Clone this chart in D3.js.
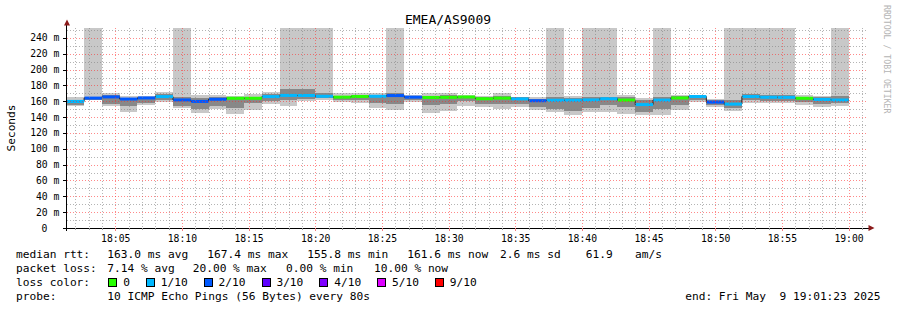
<!DOCTYPE html>
<html>
<head>
<meta charset="utf-8">
<script src="https://cdn.jsdelivr.net/npm/d3@7"></script>
<style>
  body { margin: 0; background: #fff; }
  svg { display: block; }
  text { font-family: "DejaVu Sans Mono", monospace; fill: #000; }
</style>
</head>
<body>
<svg id="chart" width="897" height="310"></svg>
<script>
// smokeping detail: 44 steps of 80s, 10 pings per step
// median rtt per step (ms)
var median = [159.8, 164.0, 165.5, 162.8, 164.2, 165.9, 161.7, 159.8, 162.5, 163.8,
              163.8, 165.9, 167.4, 167.3, 166.3, 165.2, 166.0, 166.3, 167.2, 165.2,
              164.8, 165.0, 165.4, 163.2, 164.0, 163.0, 160.7, 161.3, 161.3, 161.7,
              163.2, 161.5, 155.8, 161.5, 164.2, 166.0, 158.9, 156.4, 166.0, 165.1,
              165.0, 163.8, 162.3, 161.6];
// lost pings out of 10
var lossCount = [1, 2, 2, 2, 2, 1, 2, 2, 2, 0,
                 0, 1, 1, 1, 1, 0, 0, 1, 2, 2,
                 0, 0, 0, 0, 0, 1, 2, 1, 1, 1,
                 1, 0, 1, 1, 0, 1, 2, 1, 1, 1,
                 1, 0, 1, 1];
// smoke: outer band (fastest / slowest ping), 300 = off the top of the graph
var outerLo = [153.5, 161.0, 154.0, 147.0, 155.6, 159.5, 151.0, 145.6, 150.0, 144.0,
               149.0, 156.6, 154.0, 160.4, 161.7, 159.5, 157.5, 151.0, 149.0, 159.0,
               145.6, 148.0, 154.0, 152.5, 150.7, 152.5, 149.0, 147.0, 142.7, 147.0,
               147.0, 144.0, 142.7, 142.7, 149.0, 159.5, 153.0, 148.0, 158.0, 158.0,
               158.0, 155.4, 153.2, 154.0];
var outerHi = [166.0, 300, 171.0, 166.7, 166.7, 172.0, 300, 168.0, 167.6, 166.7,
               169.0, 172.0, 300, 300, 300, 170.0, 171.0, 170.0, 300, 168.0,
               170.0, 171.0, 168.4, 166.7, 170.0, 166.0, 165.0, 300, 166.7, 300,
               300, 168.0, 164.6, 300, 168.4, 168.4, 163.0, 300, 300, 300,
               300, 168.4, 166.7, 300];
// smoke: inner band
var midLo = [155, 162, 157, 154, 158, 162, 154, 150, 154, 152,
             158, 160, 161, 163, 164, 162, 161, 158, 157, 162,
             155, 156, 160, 157, 157, 157, 153, 150, 148, 152,
             155, 153, 147, 150, 155, 162, 155, 152, 161, 160,
             160, 159, 157, 158];
var midHi = [161, 166, 168, 164, 165, 169, 166, 164, 165, 165,
             166, 169, 176, 176, 170, 167, 168, 168, 170, 167,
             167, 168, 167, 165, 167, 165, 163, 165, 164, 166,
             166, 165, 162, 165, 167, 167, 162, 161, 169, 168,
             168, 166, 165, 167];

var yTicks = [0, 20, 40, 60, 80, 100, 120, 140, 160, 180, 200, 220, 240];
var lossLevels = [0, 1, 2, 3, 4, 5, 9];
var lossLabels = ["0", "1/10", "2/10", "3/10", "4/10", "5/10", "9/10"];
var lossColors = ["#26ff00", "#00b8ff", "#0059ff", "#5e00ff", "#7e00ff", "#dd00ff", "#ff0000"];

var rttLegend = [["163.0 ms avg", 107.3], ["167.4 ms max", 207.3], ["155.8 ms min", 307.3],
                 ["161.6 ms now", 407.3], ["2.6 ms sd", 500], ["61.9", 585.7], ["am/s", 635]];
var lossLegend = [["7.14 % avg", 107.3], ["20.00 % max", 192.7], ["0.00 % min", 286], ["10.00 % now", 374]];

var stepMs = 80 * 1000;
var firstStep = new Date(2025, 4, 9, 18, 1, 20);
var tStart = new Date(2025, 4, 9, 18, 1, 23);
var tEnd = new Date(2025, 4, 9, 19, 1, 23);

var svg = d3.select("#chart");
var plotL = 67, plotR = 867, plotT = 28, plotB = 228;

var x = d3.scaleTime().domain([tStart, tEnd]).range([plotL, plotR]);
var y = d3.scaleLinear().domain([0, 252.5]).range([plotB, plotT]);

function stepX(i) { return x(new Date(firstStep.getTime() + i * stepMs)); }
function lossColor(n) {
  var k = 0;
  lossLevels.forEach(function(l, j) { if (n >= l) k = j; });
  return lossColors[k];
}
function px(v) { return Math.round(v) + 0.5; }

svg.append("clipPath").attr("id", "plot")
  .append("rect").attr("x", plotL).attr("y", plotT).attr("width", plotR - plotL).attr("height", plotB - plotT);

var steps = d3.range(median.length);
var g = svg.append("g").attr("clip-path", "url(#plot)");

// smoke
g.selectAll("rect.outer").data(steps).enter().append("rect")
  .attr("class", "outer")
  .attr("x", function(i) { return stepX(i); })
  .attr("width", function(i) { return stepX(i + 1) - stepX(i); })
  .attr("y", function(i) { return y(outerHi[i]); })
  .attr("height", function(i) { return y(outerLo[i]) - y(outerHi[i]); })
  .attr("fill", "#c8c8c8")
  .attr("shape-rendering", "crispEdges");

g.selectAll("rect.mid").data(steps).enter().append("rect")
  .attr("class", "mid")
  .attr("x", function(i) { return stepX(i); })
  .attr("width", function(i) { return stepX(i + 1) - stepX(i); })
  .attr("y", function(i) { return y(midHi[i]); })
  .attr("height", function(i) { return y(midLo[i]) - y(midHi[i]); })
  .attr("fill", "#888888")
  .attr("shape-rendering", "crispEdges");

// grid (drawn over the smoke, like rrdtool)
var grid = svg.append("g");
var minorY = d3.range(10, 251, 10).filter(function(v) { return v % 20 != 0; });
var minorX = x.ticks(d3.timeMinute.every(1)).filter(function(t) { return t.getMinutes() % 5 != 0; });
var majorX = x.ticks(d3.timeMinute.every(5));

function hLines(data, color) {
  grid.selectAll(null).data(data).enter().append("line")
    .attr("x1", plotL).attr("x2", plotR)
    .attr("y1", function(d) { return px(y(d)); })
    .attr("y2", function(d) { return px(y(d)); })
    .attr("stroke", color).attr("stroke-dasharray", "1,2");
}
function vLines(data, color) {
  grid.selectAll(null).data(data).enter().append("line")
    .attr("y1", plotT).attr("y2", plotB)
    .attr("x1", function(d) { return px(x(d)); })
    .attr("x2", function(d) { return px(x(d)); })
    .attr("stroke", color).attr("stroke-dasharray", "1,2");
}
hLines(minorY, "rgba(130,130,130,0.6)");
vLines(minorX, "rgba(130,130,130,0.6)");
hLines(yTicks.slice(1), "rgba(255,40,40,0.55)");
vLines(majorX, "rgba(255,40,40,0.55)");

// median step line and loss coloured band
var medLine = d3.line()
  .x(function(d) { return d[0]; })
  .y(function(d) { return d[1]; })
  .curve(d3.curveStepAfter);
var medPts = steps.map(function(i) { return [stepX(i), y(median[i])]; });
medPts.push([stepX(median.length), y(median[median.length - 1])]);
g.append("path").attr("d", medLine(medPts))
  .attr("fill", "none").attr("stroke", "#202020").attr("stroke-width", 1);

g.selectAll("rect.med").data(steps).enter().append("rect")
  .attr("class", "med")
  .attr("x", function(i) { return stepX(i) + 0.5; })
  .attr("width", function(i) { return stepX(i + 1) - stepX(i) - 0.5; })
  .attr("y", function(i) { return y(median[i]) - 1.5; })
  .attr("height", 3)
  .attr("fill", function(i) { return lossColor(lossCount[i]); });

// axes
var ax = svg.append("g").attr("shape-rendering", "crispEdges");
ax.append("line").attr("x1", 63).attr("x2", 869).attr("y1", plotB + 0.5).attr("y2", plotB + 0.5)
  .attr("stroke", "#000");
ax.append("line").attr("x1", plotL - 0.5).attr("x2", plotL - 0.5).attr("y1", plotB + 3).attr("y2", 23)
  .attr("stroke", "#000");
ax.selectAll("line.ytick").data(yTicks).enter().append("line")
  .attr("x1", 63).attr("x2", plotL)
  .attr("y1", function(d) { return px(y(d)); })
  .attr("y2", function(d) { return px(y(d)); })
  .attr("stroke", "#000");
ax.selectAll("line.xminor").data(minorX).enter().append("line")
  .attr("y1", plotB).attr("y2", plotB + 2)
  .attr("x1", function(d) { return px(x(d)); })
  .attr("x2", function(d) { return px(x(d)); })
  .attr("stroke", "#999");
ax.selectAll("line.xmajor").data(majorX).enter().append("line")
  .attr("y1", plotB).attr("y2", plotB + 3)
  .attr("x1", function(d) { return px(x(d)); })
  .attr("x2", function(d) { return px(x(d)); })
  .attr("stroke", "#f08080");
svg.append("path").attr("d", "M64,25.5L70,25.5L67,19.5Z").attr("fill", "#8b1a1a");
svg.append("path").attr("d", "M868.5,225L868.5,231L874.5,228Z").attr("fill", "#8b1a1a");

svg.selectAll("text.ylab").data(yTicks).enter().append("text")
  .attr("x", function(d) { return d == 0 ? 47.4 : 59.4; })
  .attr("y", function(d) { return y(d) + 3.5; })
  .attr("text-anchor", "end")
  .style("font-size", "9.72px")
  .text(function(d) { return d == 0 ? "0" : d + " m"; });

var fmt = d3.timeFormat("%H:%M");
svg.selectAll("text.xlab").data(majorX).enter().append("text")
  .attr("x", function(d) { return x(d) + 0.5; })
  .attr("y", 241.5)
  .attr("text-anchor", "middle")
  .style("font-size", "9.72px")
  .text(function(d) { return fmt(d); });

// titles
svg.append("text").attr("x", 448).attr("y", 24).attr("text-anchor", "middle")
  .style("font-size", "13px").text("EMEA/AS9009");
svg.append("text").attr("transform", "translate(15,128) rotate(-90)")
  .attr("text-anchor", "middle").style("font-size", "11.2px").text("Seconds");
svg.append("text").attr("transform", "translate(884,5) rotate(90)")
  .attr("text-anchor", "start").style("font-size", "8.2px").style("fill", "#b4b4b4")
  .text("RRDTOOL / TOBI OETIKER");

// legend
var leg = svg.append("g").style("font-size", "11.2px");
leg.append("text").attr("x", 16).attr("y", 257.5).text("median rtt:");
leg.selectAll("text.rtt").data(rttLegend).enter().append("text")
  .attr("x", function(d) { return d[1]; }).attr("y", 257.5).text(function(d) { return d[0]; });
leg.append("text").attr("x", 16).attr("y", 271.5).text("packet loss:");
leg.selectAll("text.loss").data(lossLegend).enter().append("text")
  .attr("x", function(d) { return d[1]; }).attr("y", 271.5).text(function(d) { return d[0]; });
leg.append("text").attr("x", 16).attr("y", 285.5).text("loss color:");
var lc = leg.selectAll("g.lc").data(lossLabels).enter().append("g");
lc.append("rect")
  .attr("x", function(d, i) { return i == 0 ? 108.5 : 146.5 + (i - 1) * 57.8; })
  .attr("y", 278.5).attr("width", 8).attr("height", 8)
  .attr("fill", function(d, i) { return lossColors[i]; })
  .attr("stroke", "#000").attr("shape-rendering", "crispEdges");
lc.append("text")
  .attr("x", function(d, i) { return i == 0 ? 123.3 : 160.8 + (i - 1) * 57.8; })
  .attr("y", 285.5).text(function(d) { return d; });
leg.append("text").attr("x", 16).attr("y", 299.5).text("probe:");
leg.append("text").attr("x", 107.3).attr("y", 299.5).text("10 ICMP Echo Pings (56 Bytes) every 80s");
leg.append("text").attr("x", 880.5).attr("y", 299.5).attr("text-anchor", "end")
  .style("white-space", "pre").text("end: Fri May  9 19:01:23 2025");
</script>
</body>
</html>
